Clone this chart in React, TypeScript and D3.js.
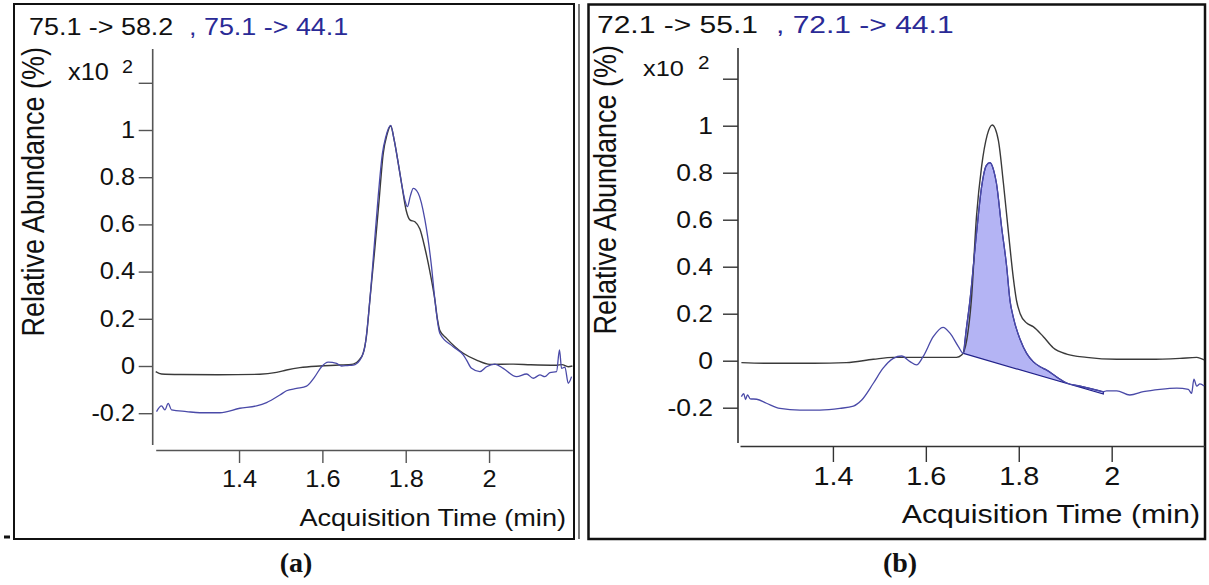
import React, { useEffect, useRef } from 'react';
import * as d3 from 'd3';

type Pt = [number, number];

// (a) 75.1 -> 58.2 (black trace), time in min, abundance in x10^2 %
const a582: Pt[] = [
  [1.2, -0.024], [1.214, -0.034], [1.26, -0.036], [1.35, -0.037], [1.45, -0.035],
  [1.49, -0.027], [1.514, -0.017], [1.546, -0.007], [1.594, 0.0], [1.64, 0.004],
  [1.674, 0.008], [1.688, 0.025], [1.698, 0.055], [1.706, 0.13], [1.714, 0.28],
  [1.726, 0.5], [1.736, 0.7], [1.746, 0.9], [1.755, 0.98], [1.764, 1.017],
  [1.772, 0.96], [1.782, 0.86], [1.79, 0.774], [1.801, 0.66], [1.81, 0.619],
  [1.822, 0.611], [1.834, 0.58], [1.846, 0.5], [1.858, 0.4], [1.87, 0.28],
  [1.876, 0.2], [1.882, 0.15], [1.898, 0.117], [1.938, 0.054], [1.97, 0.025],
  [2.002, 0.007], [2.058, 0.008], [2.1, 0.005], [2.162, 0.003], [2.175, 0.006],
  [2.19, -0.003], [2.2, 0.0],
];

// (a) 75.1 -> 44.1 (blue trace)
const a441: Pt[] = [
  [1.202, -0.193], [1.214, -0.169], [1.222, -0.186], [1.23, -0.158], [1.238, -0.186],
  [1.274, -0.193], [1.306, -0.198], [1.354, -0.198], [1.402, -0.179], [1.442, -0.169],
  [1.466, -0.155], [1.498, -0.123], [1.514, -0.105], [1.538, -0.095], [1.562, -0.085],
  [1.582, -0.045], [1.598, -0.003], [1.614, 0.016], [1.634, 0.011], [1.646, 0.0],
  [1.66, 0.002], [1.674, 0.004], [1.69, 0.025], [1.702, 0.082], [1.714, 0.28],
  [1.724, 0.5], [1.734, 0.72], [1.744, 0.9], [1.752, 0.97], [1.764, 1.02],
  [1.772, 0.96], [1.782, 0.86], [1.79, 0.774], [1.798, 0.703], [1.804, 0.675],
  [1.811, 0.72], [1.818, 0.753], [1.83, 0.732], [1.846, 0.62], [1.862, 0.42],
  [1.87, 0.28], [1.882, 0.138], [1.914, 0.082], [1.938, 0.047], [1.946, 0.025],
  [1.958, -0.01], [1.978, -0.024], [1.994, -0.003], [2.014, 0.008], [2.034, -0.01],
  [2.066, -0.045], [2.09, -0.034], [2.106, -0.052], [2.122, -0.038], [2.134, -0.045],
  [2.146, -0.028], [2.162, -0.024], [2.169, 0.068], [2.174, -0.01], [2.182, -0.005],
  [2.19, -0.073], [2.198, -0.045],
];

// (b) 72.1 -> 55.1 (black trace)
const b551: Pt[] = [
  [1.203, -0.008], [1.257, -0.011], [1.358, -0.011], [1.429, -0.008], [1.487, 0.006],
  [1.53, 0.014], [1.573, 0.014], [1.616, 0.014], [1.666, 0.014], [1.677, 0.024],
  [1.688, 0.088], [1.698, 0.258], [1.709, 0.613], [1.72, 0.826], [1.732, 0.96],
  [1.743, 1.003], [1.756, 0.939], [1.767, 0.755], [1.778, 0.542], [1.788, 0.357],
  [1.795, 0.258], [1.803, 0.2], [1.817, 0.16], [1.831, 0.145], [1.853, 0.102],
  [1.874, 0.055], [1.903, 0.028], [1.946, 0.014], [2.011, 0.006], [2.082, 0.006],
  [2.147, 0.01], [2.183, 0.014], [2.199, 0.003],
];

// (b) 72.1 -> 44.1 (blue trace)
const b441: Pt[] = [
  [1.203, -0.153], [1.208, -0.14], [1.212, -0.165], [1.216, -0.145], [1.222, -0.162],
  [1.236, -0.164], [1.257, -0.181], [1.286, -0.203], [1.329, -0.21], [1.372, -0.21],
  [1.415, -0.203], [1.444, -0.193], [1.462, -0.167], [1.487, -0.096], [1.508, -0.032],
  [1.53, 0.01], [1.548, 0.02], [1.566, -0.004], [1.58, -0.018], [1.594, 0.017],
  [1.616, 0.102], [1.637, 0.142], [1.652, 0.117], [1.67, 0.06], [1.681, 0.031],
  [1.686, 0.117], [1.695, 0.258], [1.709, 0.542], [1.72, 0.74], [1.73, 0.83],
  [1.738, 0.843], [1.746, 0.81], [1.752, 0.755], [1.763, 0.57], [1.774, 0.4],
  [1.781, 0.258], [1.788, 0.187], [1.803, 0.09], [1.817, 0.031], [1.831, -0.004],
  [1.846, -0.026], [1.86, -0.04], [1.882, -0.07], [1.903, -0.095], [1.932, -0.108],
  [1.968, -0.125], [1.982, -0.132], [1.989, -0.128], [2.011, -0.128], [2.039, -0.146],
  [2.068, -0.132], [2.104, -0.122], [2.14, -0.117], [2.165, -0.122], [2.172, -0.139],
  [2.177, -0.079], [2.183, -0.108], [2.19, -0.099], [2.199, -0.108],
];

// integration baseline of the shaded peak in (b)
const bBaseline: Pt[] = [[1.681, 0.031], [1.982, -0.142]];

const timeRange: [number, number] = [1.2, 2.2];
const yTicks = [-0.2, 0, 0.2, 0.4, 0.6, 0.8, 1, 1.2];
const xTicks = [1.4, 1.6, 1.8, 2];
const titleA = ['75.1 -> 58.2', ', 75.1 -> 44.1'];
const titleB = ['72.1 -> 55.1', ', 72.1 -> 44.1'];
const yTitle = 'Relative Abundance (%)';
const xTitle = 'Acquisition Time (min)';
const panelLabels = ['(a)', '(b)'];

const FONT = "'Liberation Sans', Arial, sans-serif";
const BLUE_TXT = '#2a2a96';

const panels = [
  {
    black: a582, blue: a441, title: titleA, fill: false,
    box: [14, 4, 574, 539], extraRight: 579, boxW: 2,
    yAxisX: 152.7, yTop: 49, yBottom: 445, yPx: [413.2, 130], yTick: 14, yGap: 17.7,
    xAxisY: 450, xPx: [155.7, 572.4], xTick: 13, xLabelOff: 37,
    tickFont: 23, xTickFont: 23, tickSx: 1.1,
    tX: 29, tBlueX: 189, tY: 35, tFont: 23, tSx: 1.17,
    x10X: 68, x10Y: 80, x10Font: 23, supX: 122, supY: 73, supFont: 18,
    yTitleX: 44, yTitleY: 47, yTitleFont: 27, yTitleSx: 1.15,
    xTitleX: 566, xTitleY: 526, xTitleFont: 24, xTitleSx: 1.13,
    axisColor: '#555', label: panelLabels[0], labelX: 296,
  },
  {
    black: b551, blue: b441, title: titleB, fill: true,
    box: [588.5, 4.5, 1205, 539], extraRight: 0, boxW: 2.5,
    yAxisX: 738, yTop: 48, yBottom: 443, yPx: [407.7, 125.7], yTick: 15, yGap: 25,
    xAxisY: 446, xPx: [740, 1204.6], xTick: 16, xLabelOff: 39,
    tickFont: 23, xTickFont: 25, tickSx: 1.15,
    tX: 597, tBlueX: 776, tY: 33, tFont: 24, tSx: 1.25,
    x10X: 643, x10Y: 76, x10Font: 22, supX: 698, supY: 69, supFont: 18,
    yTitleX: 616, yTitleY: 45, yTitleFont: 27, yTitleSx: 1.15,
    xTitleX: 1200, xTitleY: 523, xTitleFont: 25.5, xTitleSx: 1.19,
    axisColor: '#333', label: panelLabels[1], labelX: 900,
  },
];

const fmt = (d: number) => (d === 1.2 ? '' : String(+d.toFixed(1)));

const App = () => {
  const ref = useRef<SVGSVGElement | null>(null);

  useEffect(() => {
    const svg = d3.select(ref.current);
    svg.selectAll('*').remove();

    const putText = (g: any, x: number, y: number, txt: string, size: number, sx: number, opts: any = {}) =>
      g.append('text')
        .attr('transform', `translate(${x},${y}) scale(${sx},1)${opts.rot ? ' rotate(-90)' : ''}`)
        .attr('font-family', opts.family || FONT)
        .attr('font-size', size)
        .attr('font-weight', opts.weight || 'normal')
        .attr('text-anchor', opts.anchor || 'start')
        .attr('fill', opts.color || '#111')
        .text(txt);

    panels.forEach(p => {
      const g = svg.append('g');
      const x = d3.scaleLinear().domain(timeRange).range(p.xPx);
      const y = d3.scaleLinear().domain([-0.2, 1]).range(p.yPx);

      // frame
      const [bx0, by0, bx1, by1] = p.box;
      g.append('rect').attr('x', bx0).attr('y', by0).attr('width', bx1 - bx0).attr('height', by1 - by0)
        .attr('fill', 'none').attr('stroke', '#111').attr('stroke-width', p.boxW);
      if (p.extraRight) {
        g.append('line').attr('x1', p.extraRight).attr('x2', p.extraRight).attr('y1', by0).attr('y2', by1)
          .attr('stroke', '#222').attr('stroke-width', 1.2);
      }

      // y axis
      const gy = g.append('g').attr('transform', `translate(${p.yAxisX},0)`)
        .call(d3.axisLeft(y).tickValues(yTicks).tickSize(p.yTick).tickFormat(fmt as any));
      gy.select('.domain').remove();
      gy.append('line').attr('y1', p.yTop).attr('y2', p.yBottom)
        .attr('stroke', p.axisColor).attr('stroke-width', 1.6);
      gy.selectAll('.tick line').attr('stroke', p.axisColor).attr('stroke-width', 1.4);
      gy.selectAll('.tick text')
        .attr('x', -p.yGap / p.tickSx).attr('transform', `scale(${p.tickSx},1)`)
        .attr('font-family', FONT).attr('font-size', p.tickFont).attr('fill', '#111');

      // x axis
      const gx = g.append('g').attr('transform', `translate(0,${p.xAxisY})`)
        .call(d3.axisBottom(x).tickValues(xTicks).tickSize(p.xTick).tickSizeOuter(0)
          .tickFormat(d => String(d)));
      gx.select('.domain').attr('stroke', p.axisColor).attr('stroke-width', 1.6);
      gx.selectAll('.tick line').attr('stroke', p.axisColor).attr('stroke-width', 1.4);
      gx.selectAll('.tick text')
        .attr('y', p.xLabelOff).attr('dy', 0).attr('transform', `scale(${p.tickSx},1)`)
        .attr('font-family', FONT).attr('font-size', p.xTickFont).attr('fill', '#111');

      const line = d3.line<Pt>().x(d => x(d[0])).y(d => y(d[1])).curve(d3.curveMonotoneX);

      // shaded integration region
      if (p.fill) {
        const seg = p.blue.filter(d => d[0] >= bBaseline[0][0] && d[0] <= bBaseline[1][0]);
        const path = line(seg) +
          `L${x(bBaseline[1][0])},${y(bBaseline[1][1])}L${x(bBaseline[0][0])},${y(bBaseline[0][1])}Z`;
        g.append('path').attr('d', path).attr('fill', '#b4b4f4').attr('stroke', '#22228a')
          .attr('stroke-width', 1.2);
      }

      g.append('path').datum(p.black).attr('d', line).attr('fill', 'none')
        .attr('stroke', '#3a3a3a').attr('stroke-width', 1.4);
      g.append('path').datum(p.blue).attr('d', line).attr('fill', 'none')
        .attr('stroke', '#4a4aa8').attr('stroke-width', 1.3);

      // titles
      putText(g, p.tX, p.tY, p.title[0], p.tFont, p.tSx);
      putText(g, p.tBlueX, p.tY, p.title[1], p.tFont, p.tSx, { color: BLUE_TXT });
      putText(g, p.x10X, p.x10Y, 'x10', p.x10Font, p.tickSx);
      putText(g, p.supX, p.supY, '2', p.supFont, p.tickSx);
      putText(g, p.yTitleX, p.yTitleY, yTitle, p.yTitleFont, p.yTitleSx, { rot: true, anchor: 'end' });
      putText(g, p.xTitleX, p.xTitleY, xTitle, p.xTitleFont, p.xTitleSx, { anchor: 'end' });

      // panel letter under the frame
      putText(svg, p.labelX, 572, p.label, 28, 1,
        { anchor: 'middle', weight: 'bold', family: "'Liberation Serif', 'Times New Roman', serif" });
    });

    // stray dash at the lower left of the figure
    svg.append('line').attr('x1', 4).attr('x2', 10).attr('y1', 537).attr('y2', 537)
      .attr('stroke', '#111').attr('stroke-width', 3);
  }, []);

  return (
    <svg ref={ref} width={1209} height={585}
      style={{ position: 'absolute', left: 0, top: 0, background: '#fff' }} />
  );
};

export default App;
